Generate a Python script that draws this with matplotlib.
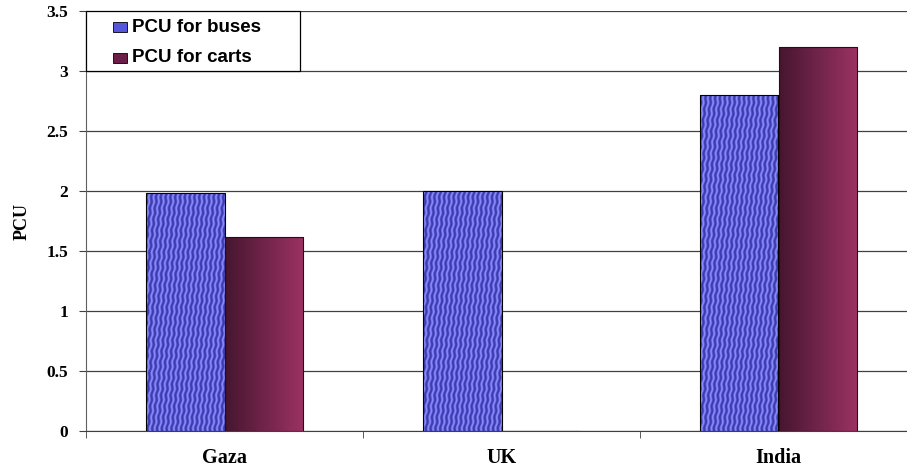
import numpy as np
import matplotlib.pyplot as plt
from matplotlib.patches import Rectangle

categories = ["Gaza", "UK", "India"]
pcu_buses = [1.98, 2.0, 2.8]
pcu_carts = [1.62, 0.0, 3.2]
y_ticks = [0, 0.5, 1, 1.5, 2, 2.5, 3, 3.5]
y_tick_labels = ["0", "0.5", "1", "1.5", "2", "2.5", "3", "3.5"]
series_names = ["PCU for buses", "PCU for carts"]

W, H = 907, 470
fig = plt.figure(figsize=(W / 100, H / 100), dpi=100)
ax = fig.add_axes([86 / W, 39 / H, 831 / W, 420 / H])

x = np.arange(len(categories))
w = 0.285

# wavy blue texture, one texel per screen pixel over the whole axes
yy, xx = np.mgrid[0:420, 0:831]
wave = np.sin(2 * np.pi * (xx / 4.8 - yy / 40.0 + 0.12 * np.sin(2 * np.pi * yy / 11.0)))
t = ((wave + 1) / 2)[..., None] ** 1.3
dark = np.array([0x3c, 0x3c, 0xae]) / 255
light = np.array([0x8a, 0x8a, 0xff]) / 255
blue_tex = dark * (1 - t) + light * t

grad = np.linspace(0, 1, 100)[None, :, None]
c0 = np.array([0x46, 0x16, 0x30]) / 255
c1 = np.array([0x9c, 0x32, 0x62]) / 255
red_tex = c0 * (1 - grad) + c1 * grad

bars_b = ax.bar(x - w / 2, pcu_buses, w, color="none", edgecolor="black", linewidth=0.8, zorder=4)
bars_c = ax.bar(x + w / 2, pcu_carts, w, color="none", edgecolor="#2a0a1a", linewidth=0.8, zorder=4)

for b in bars_b:
    if b.get_height() <= 0:
        continue
    im = ax.imshow(blue_tex, extent=[-0.5, len(categories) - 0.5, 0, 3.5],
                   aspect="auto", zorder=3, interpolation="nearest", origin="lower")
    im.set_clip_path(b)
for b in bars_c:
    if b.get_height() <= 0:
        continue
    im = ax.imshow(red_tex, extent=[b.get_x(), b.get_x() + b.get_width(), 0, b.get_height()],
                   aspect="auto", zorder=3, interpolation="bilinear")
    im.set_clip_path(b)

ax.set_xlim(-0.5, len(categories) - 0.5)
ax.set_ylim(0, 3.5)
ax.set_yticks(y_ticks)
ax.set_yticklabels(y_tick_labels, fontfamily="Liberation Serif", fontweight="bold", fontsize=12.5)
ax.set_xticks(x)
ax.set_xticklabels(categories, fontfamily="Liberation Serif", fontweight="bold", fontsize=14.5)
ax.tick_params(axis="x", length=0, pad=12)
ax.set_xticks(np.arange(len(categories) + 1) - 0.5, minor=True)
ax.tick_params(axis="x", which="minor", length=5, color="#404040")
ax.tick_params(axis="y", length=5, color="#404040", pad=8)
ax.yaxis.grid(True, color="#404040", linewidth=0.9)
ax.set_axisbelow(True)
for s in ["top", "right"]:
    ax.spines[s].set_visible(False)
ax.spines["left"].set_color("#606060")
ax.spines["bottom"].set_color("#404040")

ax.set_ylabel("PCU", fontfamily="Liberation Serif", fontweight="bold", fontsize=13)
ax.yaxis.set_label_coords(-55 / 831, 0.5)


# legend box drawn in pixel positions of the figure
def px(xp, yp):
    return xp / W, 1 - yp / H


x0, y0 = px(86, 71)
x1, y1 = px(300, 11)
fig.patches.append(Rectangle((x0, y0), x1 - x0, y1 - y0, transform=fig.transFigure,
                             facecolor="white", edgecolor="black", linewidth=0.9, zorder=6))
swatch = ["#5656dc", "#6a1e48"]
for i, (name, col) in enumerate(zip(series_names, swatch)):
    yc = 27 + i * 31
    sx, sy = px(113, yc + 5)
    fig.patches.append(Rectangle((sx, sy), 14 / W, 10 / H, transform=fig.transFigure,
                                 facecolor=col, edgecolor="black", linewidth=0.6, zorder=7))
    tx, ty = px(132, yc)
    fig.text(tx, ty, name, ha="left", va="center", fontfamily="Liberation Sans",
             fontweight="bold", fontsize=13.5, zorder=8)

fig.savefig("out.png", dpi=100)
